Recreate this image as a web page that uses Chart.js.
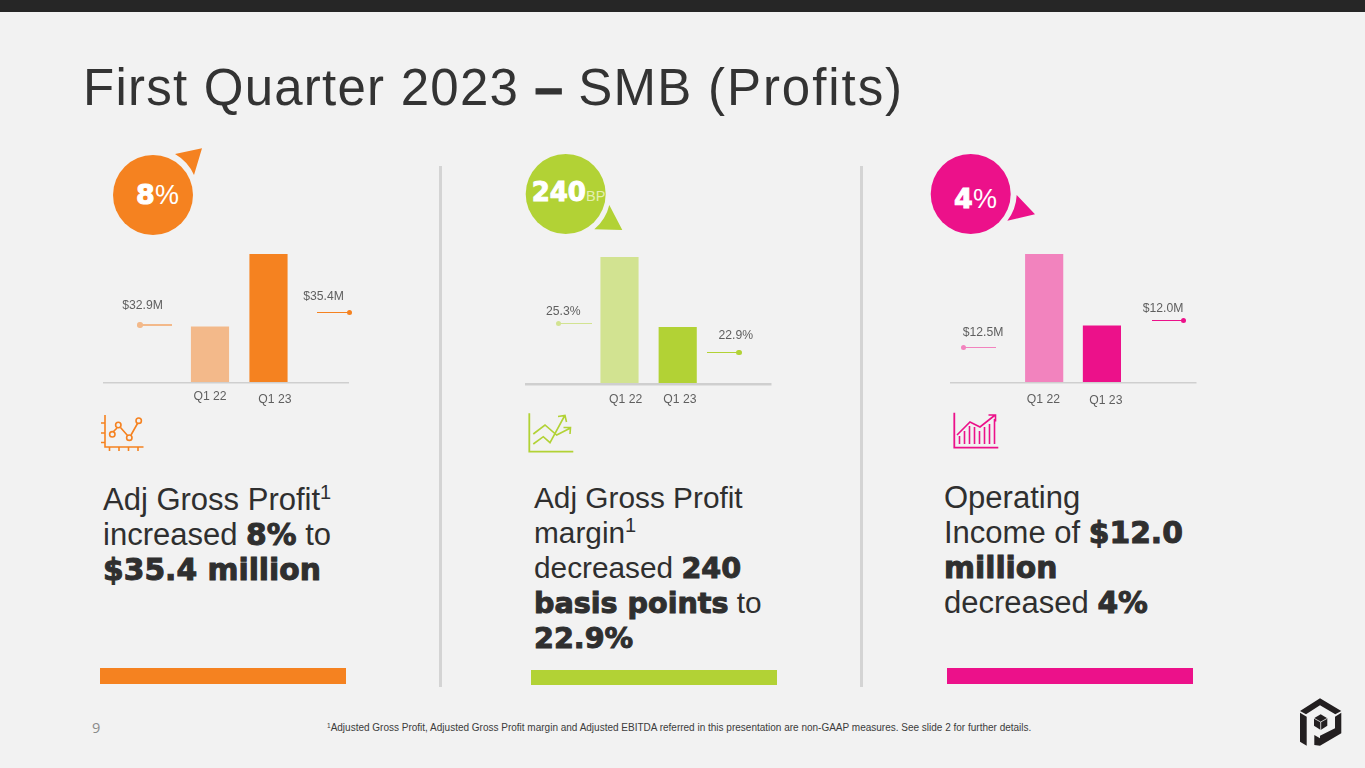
<!DOCTYPE html>
<html>
<head>
<meta charset="utf-8">
<title>First Quarter 2023 - SMB (Profits)</title>
<script src="https://cdn.jsdelivr.net/npm/chart.js@4/dist/chart.umd.min.js"></script>
<style>
  html, body { margin: 0; padding: 0; background: #f2f2f2; }
  #slide { position: relative; width: 1365px; height: 768px; overflow: hidden; background: #f2f2f2; font-family: "Liberation Sans", Arial, sans-serif; color: #2f2f2f; }
  #topbar { position: absolute; left: 0; top: 0; width: 1365px; height: 12px; background: #262626; }
  h1 { position: absolute; left: 83px; top: 59px; margin: 0; font-size: 51px; line-height: 58px; font-weight: normal; letter-spacing: 1.24px; white-space: nowrap; color: #333; }
  h1 b { -webkit-text-stroke: 1px #333; letter-spacing: 0; }
  h1 span { letter-spacing: 1.95px; }
  .abs { position: absolute; }
  .divider { position: absolute; top: 166px; width: 3px; height: 521px; background: #d4d4d4; }
  .foot { position: absolute; height: 16px; }
  .body-text { position: absolute; font-size: 31px; line-height: 35px; white-space: nowrap; color: #2f2f2f; }
  .body-text b { font-family: "DejaVu Sans", sans-serif; font-size: 0.96em; line-height: 0; font-weight: bold; -webkit-text-stroke: 1px #2f2f2f; }
  .body-text sup { font-size: 20px; line-height: 0; vertical-align: baseline; position: relative; top: -11px; }
  canvas { position: absolute; }
  .val { position: absolute; font-size: 12.2px; line-height: 14px; color: #5f5f5f; transform: translate(-50%, -50%); white-space: nowrap; }
  .badge { position: absolute; color: #fff; font-size: 27px; line-height: 32px; white-space: nowrap; transform: translate(-50%, -50%); }
  .badge b { font-family: "DejaVu Sans", sans-serif; -webkit-text-stroke: 1px #fff; }
  svg { position: absolute; left: 0; top: 0; }
  #note { position: absolute; left: 327px; top: 722px; font-size: 10px; line-height: 12px; color: #3c3c3c; white-space: nowrap; }
  #note sup { font-size: 6.5px; line-height: 0; vertical-align: baseline; position: relative; top: -3px; }
  #pageno { position: absolute; left: 92px; top: 719px; font-family: "Open Sans", sans-serif; font-size: 14.5px; line-height: 18px; color: #8a8a8a; }
</style>
</head>
<body>
<div id="slide">
  <div id="topbar"></div>
  <h1>First Quarter 2023 <b>–</b> SMB <span>(Profits)</span></h1>

  <svg width="1365" height="768" viewBox="0 0 1365 768" fill="none">
    <!-- badges -->
    <circle cx="153" cy="195" r="40" fill="#F58220"/>
    <path d="M175 154 L202 148.3 L194 175 A46 46 0 0 0 175 154 Z" fill="#F58220"/>
    <circle cx="565.7" cy="194" r="40" fill="#B2D235"/>
    <path d="M594.3 229.3 A45.5 45.5 0 0 0 609.3 205 L622.3 230 Z" fill="#B2D235"/>
    <circle cx="970.7" cy="194" r="40" fill="#EC118A"/>
    <path d="M1007.3 220.7 A45.5 45.5 0 0 0 1016.7 195 L1035 214.3 Z" fill="#EC118A"/>

    <!-- icon 1 -->
    <g stroke="#F58220" stroke-width="1.6">
      <path d="M105 415 V447 H143.5"/>
      <path d="M101 423 H105 M101 433 H105 M101 442.5 H105 M109.5 447 V451 M119 447 V451 M128.5 447 V451 M138 447 V451"/>
      <path d="M113.5 431.5 L117 428 M120.5 427.5 L127.5 435.5 M131 435 L137.5 423.5"/>
      <circle cx="112.3" cy="434.3" r="2.7"/>
      <circle cx="118.3" cy="425" r="2.7"/>
      <circle cx="129.3" cy="437.7" r="2.7"/>
      <circle cx="138.7" cy="420.7" r="2.7"/>
    </g>

    <!-- icon 2 -->
    <g stroke="#B2D235" stroke-width="1.6">
      <path d="M529.3 413.3 V451.7 H573.3" stroke-width="1.8"/>
      <path d="M533.3 434 L545 425 L556.7 435 L570 428.3 M563.5 427.5 L570.5 427.5 L570 434"/>
      <path d="M533.3 444 L543.3 436.7 L550 442.7 L564.5 416 M558 416.5 L565 415.5 L566.5 422"/>
    </g>

    <!-- icon 3 -->
    <g stroke="#EC118A" stroke-width="1.6">
      <path d="M954.3 412.7 V447.7 H998.3" stroke-width="1.8"/>
      <path d="M957 435 L970 422 L980 427 L994.5 415.5 M988.5 415 L995.5 415 L995.5 421.5"/>
      <path d="M959.5 444 V436 M964.5 444 V431 M969.5 444 V426 M974.5 444 V427 M979.5 444 V431 M984.5 444 V427 M989.5 444 V424 M994.5 444 V419"/>
    </g>

    <!-- logo -->
    <g fill="#231f20">
      <path d="M1300 711 L1320 698.3 L1341.3 711 L1335.3 714.3 L1320 705.3 L1306 714.3 Z"/>
      <path d="M1300 712.7 L1306.7 716.7 L1306.7 745.7 L1300 741.7 Z"/>
      <path d="M1341.3 712.7 V733.3 L1320 745.7 V735.7 L1335 728.3 V716.7 Z"/>
      <path d="M1314.3 735 L1320 738.3 V745.7 L1314.3 745 Z"/>
      <path d="M1314 718.3 L1320.7 714.3 L1327.3 718.3 V725.7 L1320.7 730 L1314 725.7 Z"/>
    </g>
    <path d="M1314 718.3 L1320.7 722 L1327.3 718.3 M1320.7 722 V730" stroke="#f2f2f2" stroke-width="0.8" fill="none"/>
  </svg>

  <div class="divider" style="left:439px"></div>
  <div class="divider" style="left:860px"></div>

  <div class="foot" style="left:100px;top:668px;width:246px;background:#F58220"></div>
  <div class="foot" style="left:531px;top:670px;width:246px;height:15px;background:#B2D235"></div>
  <div class="foot" style="left:947px;top:668px;width:246px;background:#EC118A"></div>

  <div class="body-text" style="left:103px;top:482px">Adj Gross Profit<sup>1</sup><br>increased <b>8%</b> to<br><b>$35.4 million</b></div>
  <div class="body-text" style="left:534px;top:480px;font-size:29.8px">Adj Gross Profit<br>margin<sup>1</sup><br>decreased <b>240</b><br><b>basis points</b> to<br><b>22.9%</b></div>
  <div class="body-text" style="left:944px;top:480px">Operating<br>Income of <b>$12.0</b><br><b>million</b><br>decreased <b>4%</b></div>

  <div id="charts"></div>

  <div class="badge" style="left:157.5px;top:195px"><b>8</b>%</div>
  <div class="badge" style="left:568.5px;top:194px"><b style="font-size:26px">240</b><span style="font-size:14.5px;color:#e4efb0;letter-spacing:0">BP</span></div>
  <div class="badge" style="left:975.5px;top:199px"><b>4</b>%</div>

  <div id="pageno">9</div>
  <div id="note"><sup>1</sup>Adjusted Gross Profit, Adjusted Gross Profit margin and Adjusted EBITDA referred in this presentation are non-GAAP measures. See slide 2 for further details.</div>
</div>

<script>
const categories = ['Q1 22', 'Q1 23'];

const grossProfit = [32.9, 35.4];
const grossMargin = [25.3, 22.9];
const operatingIncome = [12.5, 12.0];

// the bars in the slide sit on truncated axes
const grossProfitFloor = 31;
const grossMarginFloor = 21;
const operatingIncomeFloor = 11.61;

const orangeBars = ['#F3B98A', '#F58220'];
const greenBars = ['#D2E391', '#B2D235'];
const pinkBars = ['#F283BE', '#EC118A'];

function money(v) { return '$' + v.toFixed(1) + 'M'; }
function percent(v) { return v.toFixed(1) + '%'; }

// page pixels for each panel: plot box, base rule, tick label nudges and the two value callouts
const panels = [
  {
    values: grossProfit, floor: grossProfitFloor, colors: orangeBars, format: money,
    plot: { left: 180.75, right: 297.75, top: 254, bottom: 382 },
    rule: { from: 103, to: 349, width: 1.5 },
    tickDx: [0, 6.4], tickY: [396.7, 399.3],
    callouts: [
      { x: 142.5, y: 305, x1: 140, x2: 172, ly: 325, dot: 'start' },
      { x: 323.5, y: 296, x1: 317, x2: 349.5, ly: 312.7, dot: 'end' }
    ]
  },
  {
    values: grossMargin, floor: grossMarginFloor, colors: greenBars, format: percent,
    plot: { left: 589.9, right: 706.8, top: 257, bottom: 383 },
    rule: { from: 524.5, to: 771, width: 2.5 },
    tickDx: [6.2, 2.2], tickY: [399.3, 399.3],
    callouts: [
      { x: 563.3, y: 311, x1: 558.3, x2: 591.7, ly: 323.3, dot: 'start' },
      { x: 735.8, y: 335, x1: 706.7, x2: 739, ly: 352.7, dot: 'end' }
    ]
  },
  {
    values: operatingIncome, floor: operatingIncomeFloor, colors: pinkBars, format: money,
    plot: { left: 1014.8, right: 1130.8, top: 254, bottom: 382 },
    rule: { from: 949.5, to: 1196, width: 1.5 },
    tickDx: [-0.8, 3.9], tickY: [399.3, 400.7],
    callouts: [
      { x: 983, y: 332, x1: 963.3, x2: 996, ly: 347.3, dot: 'start' },
      { x: 1163, y: 308, x1: 1151.7, x2: 1183.3, ly: 320.7, dot: 'end' }
    ]
  }
];

// base rule runs past the plot box, tick labels are nudged one by one as on the slide
const slidePanel = {
  id: 'slidePanel',
  afterDatasetsDraw(chart, args, opts) {
    const ctx = chart.ctx;
    const p = opts.panel;
    const originX = opts.originX, originY = opts.originY;
    const xScale = chart.scales.x;
    ctx.save();
    ctx.strokeStyle = '#cfcfcf';
    ctx.lineWidth = p.rule.width;
    ctx.beginPath();
    ctx.moveTo(p.rule.from - originX, chart.chartArea.bottom + p.rule.width / 2);
    ctx.lineTo(p.rule.to - originX, chart.chartArea.bottom + p.rule.width / 2);
    ctx.stroke();
    ctx.fillStyle = '#5f5f5f';
    ctx.font = '12.2px "Liberation Sans"';
    ctx.textAlign = 'center';
    ctx.textBaseline = 'middle';
    categories.forEach(function (label, i) {
      ctx.fillText(label, xScale.getPixelForValue(i) + p.tickDx[i], p.tickY[i] - originY);
    });
    ctx.restore();
  }
};

const chartsBox = document.getElementById('charts');

panels.forEach(function (p) {
  const originX = p.rule.from - 6;
  const originY = p.plot.top - 8;
  const width = p.rule.to - p.rule.from + 12;
  const height = p.plot.bottom - p.plot.top + 34;

  const canvas = document.createElement('canvas');
  canvas.width = width;
  canvas.height = height;
  canvas.style.left = originX + 'px';
  canvas.style.top = originY + 'px';
  chartsBox.appendChild(canvas);

  new Chart(canvas.getContext('2d'), {
    type: 'bar',
    data: {
      labels: categories,
      datasets: [{
        data: p.values,
        backgroundColor: p.colors,
        borderWidth: 0,
        barThickness: 37.5
      }]
    },
    options: {
      responsive: false,
      animation: false,
      layout: {
        padding: {
          left: p.plot.left - originX,
          right: originX + width - p.plot.right,
          top: p.plot.top - originY,
          bottom: originY + height - p.plot.bottom
        }
      },
      scales: {
        x: { display: false },
        y: { display: false, min: p.floor, max: Math.max.apply(null, p.values) }
      },
      plugins: {
        legend: { display: false },
        tooltip: { enabled: false },
        slidePanel: { panel: p, originX: originX, originY: originY }
      }
    },
    plugins: [slidePanel]
  });

  // value callouts: first is the lighter Q1 22, second the full colour Q1 23
  p.callouts.forEach(function (c, i) {
    const color = p.colors[i];
    const label = document.createElement('div');
    label.className = 'val';
    label.style.left = c.x + 'px';
    label.style.top = c.y + 'px';
    label.textContent = p.format(p.values[i]);
    chartsBox.appendChild(label);

    const line = document.createElement('div');
    line.className = 'abs';
    line.style.cssText = 'left:' + c.x1 + 'px;top:' + (c.ly - 0.75) + 'px;width:' + (c.x2 - c.x1) + 'px;height:1.5px;background:' + color;
    chartsBox.appendChild(line);

    const dot = document.createElement('div');
    const dotX = c.dot === 'start' ? c.x1 : c.x2;
    dot.className = 'abs';
    dot.style.cssText = 'left:' + (dotX - 2.7) + 'px;top:' + (c.ly - 2.7) + 'px;width:5.4px;height:5.4px;border-radius:50%;background:' + color;
    chartsBox.appendChild(dot);
  });
});
</script>
</body>
</html>
